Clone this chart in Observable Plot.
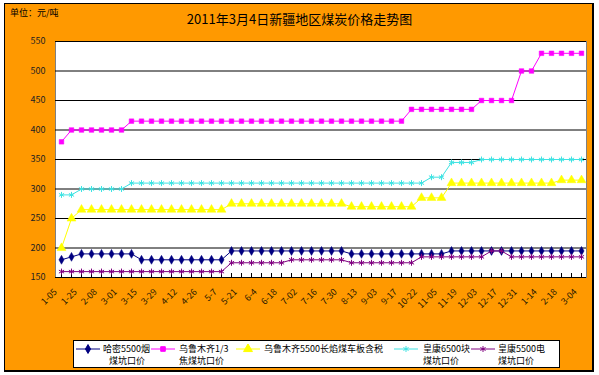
<!DOCTYPE html>
<html><head><meta charset="utf-8">
<script src="https://cdn.jsdelivr.net/npm/d3@7"></script>
<script src="https://cdn.jsdelivr.net/npm/@observablehq/plot@0.6"></script>
<style>
body{margin:0;background:#fff;font-family:"Noto Sans CJK SC",sans-serif;}
#wrap{position:relative;width:599px;height:375px;overflow:hidden;}
#bg{position:absolute;left:4px;top:3px;width:587px;height:366px;background:#FF9900;border:1px solid #000;border-right-width:2px;border-bottom-width:2px;}
#chart{position:absolute;left:0;top:0;}
#title{position:absolute;left:0;width:599px;top:11px;text-align:center;font-size:13px;line-height:16px;color:#000;}
#unit{position:absolute;left:10px;top:7px;font-size:9px;line-height:11px;color:#000;}
#legend{position:absolute;left:73px;top:340px;width:485px;height:26px;background:#fff;border:1px solid #000;}
.sw{position:absolute;top:3px;}
.lt{position:absolute;font-size:9px;line-height:11px;color:#000;white-space:nowrap;}
</style>
</head><body>
<div id="wrap">
  <div id="bg"></div>
  <div id="unit">单位：元/吨</div>
  <div id="title">2011年3月4日新疆地区煤炭价格走势图</div>
  <div id="chart"></div>
  <div id="legend"></div>
</div>
<script>
// x tick labels (every second point)
const xLabels = ["1-05","1-25","2-08","3-01","3-15","3-29","4-12","4-26","5-7","5-21","6-4","6-18","7-02","7-16","7-30","8-13","9-03","9-17","10-22","11-05","11-19","12-03","12-17","12-31","1-14","2-18","3-04"];
const yTicks = [150,200,250,300,350,400,450,500,550];

const hamiNames = ["哈密5500烟", "煤坑口价"];
const hamiValues = [180,185,190,190,190,190,190,190,180,180,180,180,180,180,180,180,180,195,195,195,195,195,195,195,195,195,195,195,195,190,190,190,190,190,190,190,190,190,190,195,195,195,195,195,195,195,195,195,195,195,195,195,195];

const wlmqJiaoNames = ["乌鲁木齐1/3", "焦煤坑口价"];
const wlmqJiaoValues = [380,400,400,400,400,400,400,415,415,415,415,415,415,415,415,415,415,415,415,415,415,415,415,415,415,415,415,415,415,415,415,415,415,415,415,435,435,435,435,435,435,435,450,450,450,450,500,500,530,530,530,530,530];

const wlmqChangNames = ["乌鲁木齐5500长焰煤车板含税"];
const wlmqChangValues = [200,250,265,265,265,265,265,265,265,265,265,265,265,265,265,265,265,275,275,275,275,275,275,275,275,275,275,275,275,270,270,270,270,270,270,270,285,285,285,310,310,310,310,310,310,310,310,310,310,310,315,315,315];

const hk6500Names = ["皇康6500块", "煤坑口价"];
const hk6500Values = [290,290,300,300,300,300,300,310,310,310,310,310,310,310,310,310,310,310,310,310,310,310,310,310,310,310,310,310,310,310,310,310,310,310,310,310,310,320,320,345,345,345,350,350,350,350,350,350,350,350,350,350,350];

const hk5500Names = ["皇康5500电", "煤坑口价"];
const hk5500Values = [160,160,160,160,160,160,160,160,160,160,160,160,160,160,160,160,160,175,175,175,175,175,175,180,180,180,180,180,180,175,175,175,175,175,175,175,185,185,185,185,185,185,185,195,195,185,185,185,185,185,185,185,185];

const series = [
  {names: hamiNames, values: hamiValues, color: "#000080", symbol: "diamond", r: 2.7, filled: true},
  {names: wlmqJiaoNames, values: wlmqJiaoValues, color: "#FF00FF", symbol: "square", r: 2.6, filled: true},
  {names: wlmqChangNames, values: wlmqChangValues, color: "#FFFF00", symbol: "triangle", r: 3.3, filled: true},
  {names: hk6500Names, values: hk6500Values, color: "#3DE3E3", symbol: "asterisk", r: 2.8, filled: false},
  {names: hk5500Names, values: hk5500Values, color: "#800080", symbol: "asterisk", r: 2.8, filled: false}
];

const n = hamiValues.length;
const idx = d3.range(n);

const marks = [
  Plot.frame({fill: "white", stroke: "#808080"}),
  Plot.gridY(yTicks, {stroke: "#000", strokeOpacity: 1}),
  Plot.ruleY([150], {stroke: "#000"}),
  Plot.tickX(idx, {x: d => d, insetTop: 232, stroke: "#000"}),
  Plot.axisY(yTicks, {tickSize: 0, tickPadding: 10, fontSize: 9, fill: "#222", label: null}),
  Plot.text(xLabels, {x: (d, i) => i * 2, text: d => d, frameAnchor: "bottom", rotate: -45, textAnchor: "end", dx: -4, dy: 15, fontSize: 9, fill: "#2a1a00"})
];
for (const s of series) {
  const data = s.values.map((v, i) => ({i, v}));
  marks.push(Plot.lineY(data, {x: "i", y: "v", stroke: s.color, strokeWidth: 1}));
  marks.push(Plot.dot(data, {x: "i", y: "v", symbol: s.symbol, r: s.r,
    fill: s.filled ? s.color : "none", stroke: s.color, strokeWidth: s.filled ? 0.5 : 1}));
}

const chart = Plot.plot({
  width: 599, height: 375,
  marginLeft: 55, marginRight: 13, marginTop: 41, marginBottom: 98,
  style: {background: "transparent", fontFamily: "'Noto Sans CJK SC', sans-serif"},
  x: {type: "point", domain: idx, padding: 0.5, axis: null},
  y: {domain: [150, 550], axis: null},
  marks
});
document.getElementById("chart").appendChild(chart);

// legend
const legend = document.getElementById("legend");
const swLeft = [2, 77, 162, 320, 397];
const txLeft = [29, 105, 190, 349, 424];
series.forEach((s, k) => {
  const svg = d3.create("svg").attr("class", "sw").attr("width", 24).attr("height", 10)
    .style("left", swLeft[k] + "px");
  svg.append("line").attr("x1", 0).attr("x2", 24).attr("y1", 5).attr("y2", 5).attr("stroke", s.color);
  const symMap = {diamond: d3.symbolDiamond, square: d3.symbolSquare, triangle: d3.symbolTriangle, asterisk: d3.symbolAsterisk};
  svg.append("path").attr("transform", "translate(12,5)")
    .attr("d", d3.symbol(symMap[s.symbol], Math.PI * s.r * s.r)())
    .attr("fill", s.filled ? s.color : "none").attr("stroke", s.color);
  legend.appendChild(svg.node());
  s.names.forEach((t, j) => {
    const el = document.createElement("div");
    el.className = "lt";
    el.textContent = t;
    el.style.left = (txLeft[k] + (j === 1 && k === 0 ? 6 : 0)) + "px";
    el.style.top = (2 + j * 12) + "px";
    legend.appendChild(el);
  });
});
</script>
</body></html>
